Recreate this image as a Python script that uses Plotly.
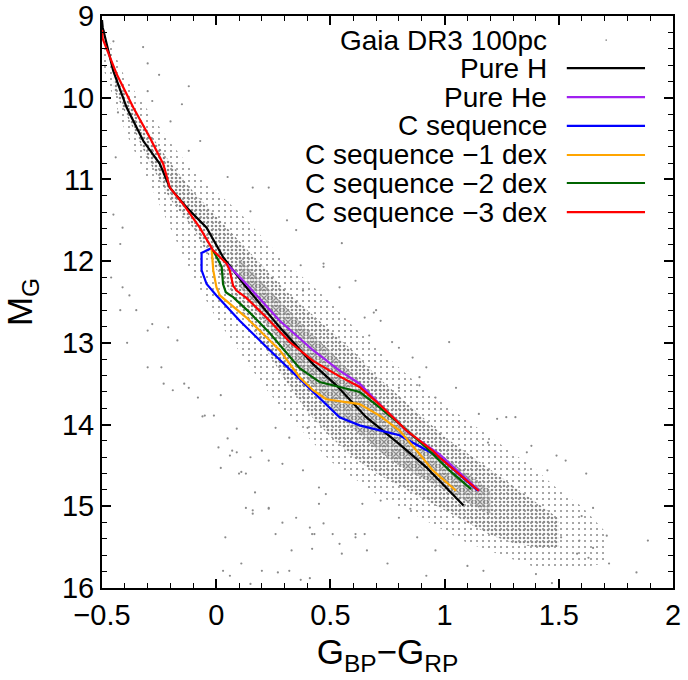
import plotly.graph_objects as go

# ---------------- model sequences (G_BP-G_RP, M_G) ----------------
pure_h_x = [-0.500, -0.497, -0.451, -0.392, -0.319, -0.247, -0.203, -0.130, -0.042, 0.030, 0.132, 0.278, 0.424, 0.526, 0.657, 0.802, 0.919, 1.050, 1.083]
pure_h_y = [9.05, 9.14, 9.67, 10.12, 10.53, 10.81, 11.10, 11.34, 11.59, 11.95, 12.32, 12.81, 13.26, 13.52, 13.91, 14.24, 14.52, 14.89, 14.99]

pure_he_x = [0.045, 0.132, 0.278, 0.424, 0.540, 0.628, 0.744, 0.846, 0.977, 1.152]
pure_he_y = [12.03, 12.28, 12.73, 13.09, 13.34, 13.50, 13.83, 14.11, 14.36, 14.81]

cseq_x = [-0.020, -0.064, -0.064, -0.042, 0.001, 0.103, 0.220, 0.365, 0.453, 0.540, 0.628, 0.802, 0.977, 1.145]
cseq_y = [11.84, 11.90, 12.11, 12.28, 12.42, 12.73, 13.05, 13.44, 13.67, 13.91, 14.01, 14.13, 14.40, 14.81]

cseq1_x = [-0.020, -0.018, -0.013, 0.001, 0.016, 0.132, 0.278, 0.365, 0.424, 0.482, 0.569, 0.628, 0.715, 0.802, 0.890, 0.948, 1.050]
cseq1_y = [11.84, 11.91, 12.11, 12.32, 12.42, 12.69, 13.09, 13.42, 13.58, 13.69, 13.73, 13.75, 13.89, 14.07, 14.36, 14.56, 14.81]

cseq2_x = [-0.013, 0.024, 0.030, 0.042, 0.074, 0.147, 0.234, 0.365, 0.453, 0.540, 0.628, 0.715, 0.802, 0.919, 1.021, 1.116]
cseq2_y = [11.87, 12.07, 12.28, 12.38, 12.44, 12.63, 12.88, 13.31, 13.48, 13.54, 13.60, 13.79, 13.99, 14.28, 14.56, 14.79]

cseq3_x = [-0.500, -0.497, -0.436, -0.363, -0.290, -0.232, -0.203, -0.145, -0.072, -0.013, 0.045, 0.059, 0.074, 0.089, 0.132, 0.220, 0.322, 0.424, 0.540, 0.628, 0.729, 0.832, 0.948, 0.977, 1.149]
cseq3_y = [9.17, 9.28, 9.71, 10.12, 10.49, 10.81, 11.10, 11.30, 11.59, 11.87, 12.03, 12.11, 12.30, 12.36, 12.45, 12.69, 12.99, 13.22, 13.41, 13.54, 13.79, 14.07, 14.32, 14.40, 14.81]

# ---------------- Gaia 100pc cloud (outlines) ----------------
# sparse envelope
cloud_mid_x = [-0.5, -0.4, -0.3, -0.2, -0.1, 0.0, 0.1, 0.2, 0.3, 0.4, 0.5, 0.6, 0.7, 0.8, 0.9, 1.0, 1.1, 1.2, 1.3, 1.4, 1.5, 1.6, 1.7,
               1.7, 1.6, 1.5, 1.4, 1.3, 1.2, 1.1, 1.0, 0.9, 0.8, 0.7, 0.6, 0.5, 0.4, 0.3, 0.2, 0.1, 0.0, -0.1, -0.2, -0.3, -0.4, -0.5]
cloud_mid_y = [9.1, 9.75, 10.15, 10.55, 10.9, 11.15, 11.4, 11.7, 12.0, 12.25, 12.5, 12.8, 13.05, 13.3, 13.55, 13.75, 13.95, 14.15, 14.35, 14.55, 14.8, 15.0, 15.3,
               15.7, 15.75, 15.75, 15.75, 15.65, 15.55, 15.45, 15.3, 15.15, 15.0, 14.85, 14.65, 14.45, 14.15, 13.85, 13.5, 13.1, 12.7, 12.2, 11.6, 11.0, 10.4, 9.6]
# populated band
cloud_core_x = [-0.45, -0.35, -0.3, -0.2, -0.1, 0.0, 0.1, 0.2, 0.3, 0.4, 0.5, 0.6, 0.7, 0.8, 0.9, 1.0, 1.1, 1.2, 1.3, 1.4, 1.5,
                1.5, 1.4, 1.3, 1.2, 1.1, 1.0, 0.9, 0.8, 0.7, 0.6, 0.5, 0.4, 0.3, 0.2, 0.1, 0.0, -0.1, -0.2, -0.3, -0.35, -0.45]
cloud_core_y = [9.7, 10.2, 10.4, 10.8, 11.15, 11.45, 11.75, 12.05, 12.35, 12.6, 12.85, 13.1, 13.4, 13.65, 13.9, 14.15, 14.35, 14.55, 14.75, 14.95, 15.15,
                15.5, 15.5, 15.45, 15.35, 15.2, 15.05, 14.9, 14.75, 14.6, 14.4, 14.15, 13.85, 13.45, 13.0, 12.55, 12.1, 11.6, 11.25, 10.75, 10.45, 9.9]
# densest part
cloud_inner_x = [0.1, 0.2, 0.3, 0.4, 0.5, 0.6, 0.7, 0.8, 0.9, 1.0, 1.1, 1.2,
                 1.2, 1.1, 1.0, 0.9, 0.8, 0.7, 0.6, 0.5, 0.4, 0.3, 0.2, 0.1]
cloud_inner_y = [11.95, 12.25, 12.55, 12.85, 13.1, 13.4, 13.7, 13.95, 14.2, 14.4, 14.6, 14.8,
                 15.1, 14.95, 14.8, 14.65, 14.5, 14.3, 14.05, 13.8, 13.45, 13.05, 12.7, 12.3]
# isolated stars outside the main cloud
stars_x = [-0.45, -0.32, -0.30, -0.25, -0.12, -0.30, -0.28, -0.15, -0.43, -0.20, -0.07, -0.12, -0.44, 0.05, -0.45, 0.15, 0.16, -0.41, -0.42,
           0.31, 0.23, 0.35, 0.47, 0.55, 0.38,
           -0.46, -0.41, -0.38, -0.42, -0.35, -0.39, -0.30, -0.28, -0.21, -0.17, -0.24, -0.30, -0.23, -0.19, -0.12, -0.08, 0.02, -0.05, -0.01,
           0.09, 0.05, 0.01, 0.07, 0.09, 0.06, 0.23, 0.02, 0.11, 0.13, 0.17, 0.16, 0.13, 0.23, 0.29, 0.04, 0.33, 0.11, 0.20, 0.03, 0.06, 0.27,
           0.32, 0.15, -0.06, -0.14, 0.10, 0.42, 0.37, 0.41, 0.45, 0.48, 0.41, 0.43, 0.51,
           1.62, 1.65, 1.71, 1.89, 1.84, 1.72, 1.60, 1.49, 1.38, 1.36, 1.31, 1.27, 1.23, 1.15, 1.19, 1.05, 0.89, 0.80, 1.53, 1.45, 1.58, 1.63,
           1.59, 1.51, 1.65,
           0.61, 0.65, 0.69, 0.72, 1.02, 0.67, 0.77, 0.80, 0.86, 0.92, 0.89, 0.96,
           0.61, 0.65, 0.75, 0.92, 0.96, 1.10, 1.17, 1.40, 1.47, 0.80, 0.88, 0.72, 0.85, 0.64,
           0.15, 0.20, 0.29, 0.38, 0.45, 0.35, 0.42, 0.47, 0.54, 0.61, 0.55, 0.66, 0.23, 0.26, 0.16, 0.32, 0.26, 0.40, 0.47, 0.37, 0.54, 0.70]
stars_y = [9.31, 9.38, 9.58, 9.72, 9.86, 9.92, 10.04, 10.08, 10.18, 10.29, 10.53, 10.65, 10.73, 10.97, 11.43, 11.39, 11.10, 11.59, 11.79,
           11.50, 11.10, 11.62, 12.07, 11.78, 12.36,
           12.20, 12.32, 12.42, 12.60, 12.60, 13.00, 12.85, 12.77, 12.81, 12.97, 13.30, 13.30, 13.50, 13.58, 13.55, 13.67, 13.64, 13.89, 13.89,
           14.05, 14.17, 14.28, 14.32, 14.34, 14.38, 14.44, 14.53, 14.58, 14.60, 14.83, 15.05, 15.02, 15.03, 15.20, 15.38, 15.54, 15.70, 15.79, 15.79, 15.85, 15.81,
           15.79, 15.95, 13.90, 13.50, 14.60, 15.52, 15.90, 15.88, 14.97, 14.85, 15.26, 15.34, 15.34,
           14.60, 15.02, 15.36, 15.42, 15.81, 15.70, 15.12, 14.38, 14.26, 14.34, 13.91, 13.91, 13.93, 13.87, 14.22, 13.55, 13.52, 13.55, 14.44, 14.56, 15.58, 15.63,
           15.42, 15.38, 15.51,
           12.24, 12.69, 12.63, 12.73, 12.99, 12.91, 12.99, 13.06, 13.18, 13.30, 13.42, 13.67,
           15.38, 15.34, 15.70, 15.85, 15.54, 15.73, 15.79, 15.83, 15.94, 15.14, 15.38, 14.93, 15.03, 14.97,
           14.40, 14.32, 14.48, 14.56, 14.77, 15.14, 15.34, 15.21, 15.46, 15.34, 15.58, 15.54, 15.02, 15.34, 15.09, 14.16, 14.04, 14.04, 12.03, 12.05, 12.32, 12.60]

# ---------------- legend ----------------
legend_labels = ["Gaia DR3 100pc", "Pure H", "Pure He", "C sequence",
                 "C sequence \u22121 dex", "C sequence \u22122 dex", "C sequence \u22123 dex"]
line_colors = ["black", "#a020f0", "#0000ff", "#ffa500", "#006400", "#ff0000"]
dot_color = "#8a8a8a"

FONT = "Liberation Sans, Arial, Helvetica, sans-serif"

fig = go.Figure()


def cloud(xs, ys, size, solidity):
    return go.Scatter(x=xs, y=ys, mode="lines", fill="toself",
                      line=dict(width=0), fillcolor="rgba(140,140,140,0)",
                      fillpattern=dict(shape=".", size=size, solidity=solidity, fgcolor=dot_color,
                                       bgcolor="rgba(255,255,255,0)", fgopacity=1),
                      hoverinfo="skip", showlegend=False)


fig.add_trace(cloud(cloud_mid_x, cloud_mid_y, 6, 0.09))
fig.add_trace(cloud(cloud_core_x, cloud_core_y, 4, 0.34))
fig.add_trace(cloud(cloud_inner_x, cloud_inner_y, 3, 0.42))
fig.add_trace(go.Scatter(x=stars_x, y=stars_y, mode="markers",
                         marker=dict(size=2.2, color=dot_color, line=dict(width=0)),
                         showlegend=False))

curves = [(pure_h_x, pure_h_y), (pure_he_x, pure_he_y), (cseq_x, cseq_y),
          (cseq1_x, cseq1_y), (cseq2_x, cseq2_y), (cseq3_x, cseq3_y)]
for (cx, cy), col, name in zip(curves, line_colors, legend_labels[1:]):
    fig.add_trace(go.Scatter(x=cx, y=cy, mode="lines", name=name,
                             line=dict(color=col, width=2.2), showlegend=False))

# manual legend (text right-aligned, sample on the right)
row_y = [0.958, 0.909, 0.858, 0.808, 0.757, 0.708, 0.657]
for i, lab in enumerate(legend_labels):
    fig.add_annotation(x=0.783, y=row_y[i], xref="paper", yref="paper", text=lab,
                       showarrow=False, xanchor="right", yanchor="middle",
                       font=dict(family=FONT, size=28, color="black"))
    if i == 0:
        fig.add_shape(type="circle", xref="paper", yref="paper",
                      x0=0.8815, x1=0.8845, y0=row_y[i] - 0.0015, y1=row_y[i] + 0.0015,
                      fillcolor=dot_color, line=dict(width=0))
    else:
        fig.add_shape(type="line", xref="paper", yref="paper",
                      x0=0.814, x1=0.951, y0=row_y[i], y1=row_y[i],
                      line=dict(color=line_colors[i - 1], width=2.2))

axis_common = dict(showline=True, linewidth=2, linecolor="black", mirror="ticks",
                   ticks="inside", ticklen=9, tickwidth=1.5, tickcolor="black",
                   showgrid=False, zeroline=False, automargin=False,
                   tickfont=dict(family=FONT, size=29, color="black"))

fig.update_xaxes(range=[-0.5, 2.0], tick0=0, dtick=0.5,
                 minor=dict(ticks="inside", dtick=0.1, ticklen=5, tickwidth=1.2, tickcolor="black"),
                 title=dict(text="G<sub>BP</sub>\u2212G<sub>RP</sub>", standoff=10,
                            font=dict(family=FONT, size=35, color="black")),
                 **axis_common)
fig.update_yaxes(range=[16, 9], tick0=9, dtick=1,
                 minor=dict(ticks="inside", dtick=0.2, ticklen=5, tickwidth=1.2, tickcolor="black"),
                 title=dict(text="M<sub>G</sub>", standoff=20,
                            font=dict(family=FONT, size=35, color="black")),
                 **axis_common)

fig.update_layout(width=688, height=680, margin=dict(l=102, r=15, t=16, b=92, autoexpand=False),
                  paper_bgcolor="white", plot_bgcolor="white", showlegend=False,
                  font=dict(family=FONT, color="black"))

fig.write_html("out.html", config={"displayModeBar": False},
               post_script="document.body.style.margin='0';")
